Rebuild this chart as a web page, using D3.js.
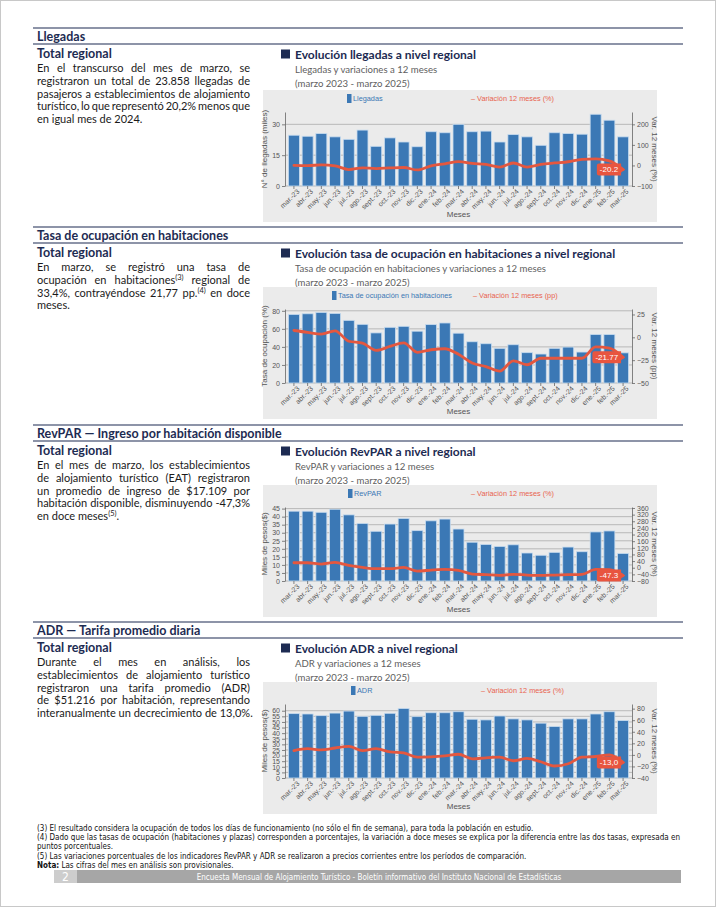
<!DOCTYPE html>
<html>
<head>
<meta charset="utf-8">
<script src="https://cdn.jsdelivr.net/npm/d3@7"></script>
<style>
body { margin: 0; background: #fff; }
#pagina { position: relative; width: 716px; height: 907px; overflow: hidden; }
</style>
</head>
<body>
<div id="pagina"></div>
<script>
// meses del eje x
const meses = ["mar.-23", "abr.-23", "may.-23", "jun.-23", "jul.-23", "ago.-23", "sept.-23", "oct.-23", "nov.-23", "dic.-23",
    "ene.-24", "feb.-24", "mar.-24", "abr.-24", "may.-24", "jun.-24", "jul.-24", "ago.-24", "sept.-24", "oct.-24",
    "nov.-24", "dic.-24", "ene.-25", "feb.-25", "mar.-25"];

// Llegadas (miles) y variacion 12 meses (%)
const llegadas = [24.7, 24.2, 25.5, 23.9, 22.7, 27.2, 19.3, 23.4, 21.4, 19.1, 26.4, 25.9, 30.0, 26.4, 26.7, 21.4, 25.0, 23.9, 19.8, 25.9, 25.5, 25.2, 34.9, 32.0, 23.9];
const llegadasVar = [0, -1, 3, -2, -20, -12, -15, -12, -10, -22, -2, 8, 19, 10, 5, -8, 12, -8, 5, 12, 18, 30, 32, 22, -20.2];
const ticksLlegadas = [0, 15, 30];
const ticksLlegadasVar = [-100, 0, 100, 200];

// Tasa de ocupacion (%) y variacion (pp)
const ocupacion = [76.0, 76.7, 78.2, 77.1, 69.4, 65.0, 55.5, 61.7, 62.8, 57.4, 64.7, 66.5, 55.2, 45.7, 43.5, 38.4, 42.4, 33.6, 32.1, 38.4, 39.8, 34.3, 53.7, 53.7, 33.4];
const ocupacionVar = [7.5, 5.4, 3.6, 7.1, -4.3, -6.4, -14.3, -10, -6, -16.4, -13.6, -12.5, -18.6, -28.2, -32, -37, -25.7, -30, -22.9, -22.9, -22.9, -22.9, -10.4, -11.8, -21.77];
const ticksOcupacion = [0, 20, 40, 60, 80];
const ticksOcupacionVar = [-50, -25, 0, 25];

// RevPAR (miles de pesos) y variacion (%)
const revpar = [43.4, 43.4, 42.7, 44.6, 41.1, 35.8, 30.9, 35.4, 38.9, 31.3, 37.4, 38.5, 32.3, 24.1, 22.7, 21.5, 22.5, 17.4, 16.0, 17.8, 21.1, 18.2, 30.5, 31.1, 17.1];
const revparVar = [30, 30, 22, 32, 14, 2, -6, -6, 2, -20, -14, -10, -16, -38, -42, -46, -40, -44, -46, -44, -42, -40, -10, -12, -47.3];
const ticksRevpar = [0, 5, 10, 15, 20, 25, 30, 35, 40, 45];
const ticksRevparVar = [-80, -40, 0, 40, 80, 120, 160, 200, 240, 280, 320, 360];

// ADR (miles de pesos) y variacion (%)
const adr = [57.4, 57.1, 55.6, 57.9, 59.7, 55.0, 55.9, 57.7, 62.0, 54.7, 58.2, 58.2, 59.1, 52.4, 51.8, 55.3, 52.7, 51.8, 48.9, 45.9, 52.7, 52.7, 57.1, 59.1, 51.2];
const adrVar = [7.4, 10.8, 8.5, 11.9, 14.7, 7.4, 10.8, 5.1, 3.4, -4, -3.4, -1.7, 1.1, -6.8, -5.1, -4, -10.2, -6.2, -11.9, -19.2, -15.3, -4, -2.8, 0, -13.0];
const ticksAdr = [0, 5, 10, 15, 20, 25, 30, 35, 40, 45, 50, 55, 60];
const ticksAdrVar = [-40, -20, 0, 20, 40, 60, 80];

// textos ({..} = superindice, [..] = negrita)
const textoLlegadas = ["En el transcurso del mes de marzo, se", "registraron un total de 23.858 llegadas de",
    "pasajeros a establecimientos de alojamiento", "turístico, lo que representó 20,2% menos que", "en igual mes de 2024."];
const textoOcupacion = ["En marzo, se registró una tasa de", "ocupación en habitaciones{(3)} regional de",
    "33,4%, contrayéndose 21,77 pp.{(4)} en doce", "meses."];
const textoRevpar = ["En el mes de marzo, los establecimientos", "de alojamiento turístico (EAT) registraron",
    "un promedio de ingreso de $17.109 por", "habitación disponible, disminuyendo -47,3%", "en doce meses{(5)}."];
const textoAdr = ["Durante el mes en análisis, los", "establecimientos de alojamiento turístico",
    "registraron una tarifa promedio (ADR)", "de $51.216 por habitación, representando", "interanualmente un decrecimiento de 13,0%."];
const notas = ["(3) El resultado considera la ocupación de todos los días de funcionamiento (no sólo el fin de semana), para toda la población en estudio.",
    "(4) Dado que las tasas de ocupación (habitaciones y plazas) corresponden a porcentajes, la variación a doce meses se explica por la diferencia entre las dos tasas, expresada en",
    "puntos porcentuales.",
    "(5) Las variaciones porcentuales de los indicadores RevPAR y ADR se realizaron a precios corrientes entre los períodos de comparación.",
    "[Nota:] Las cifras del mes en análisis son provisionales."];

const navy = "#1d2b52";
const fuente = "Lato, 'Noto Sans', sans-serif";
const fuenteGraf = "'Liberation Sans', Arial, sans-serif";
const fuenteNotas = "'Liberation Sans Narrow', 'DejaVu Sans Condensed', 'Liberation Sans', sans-serif";

const svg = d3.select("#pagina").append("svg")
    .attr("width", 716).attr("height", 907)
    .style("font-family", fuente);

svg.append("rect").attr("x", 0.5).attr("y", 0.5).attr("width", 715).attr("height", 906)
    .attr("fill", "none").attr("stroke", "#c8c8c8");

// escribe lineas, justificando las que piden
function escribir(g, lineas, x, y0, paso, ancho, size, fill, just, familia) {
    lineas.forEach((l, i) => {
        const t = g.append("text").attr("x", x).attr("y", y0 + i * paso)
            .attr("font-size", size).attr("fill", fill);
        if (familia) t.attr("font-family", familia);
        let arriba = false;
        l.split(/(\{[^}]*\}|\[[^\]]*\])/).forEach(s => {
            if (!s) return;
            const ts = t.append("tspan");
            if (s[0] === "{") {
                ts.text(s.slice(1, -1)).attr("font-size", size * 0.68).attr("dy", -size * 0.38);
                arriba = true;
            } else if (s[0] === "[") {
                ts.text(s.slice(1, -1)).attr("font-weight", "bold");
            } else {
                ts.text(s);
                if (arriba) { ts.attr("dy", size * 0.38); arriba = false; }
            }
        });
        if (just(i)) {
            const w = t.node().getComputedTextLength();
            const n = (l.match(/ /g) || []).length;
            if (n) t.style("word-spacing", ((ancho - w) / n) + "px");
        }
    });
}

const secciones = [
    { top: 28, titulo: "Llegadas", texto: textoLlegadas, graf: "Evolución llegadas a nivel regional", sub: "Llegadas y variaciones a 12 meses" },
    { top: 227, titulo: "Tasa de ocupación en habitaciones", texto: textoOcupacion, graf: "Evolución tasa de ocupación en habitaciones a nivel regional", sub: "Tasa de ocupación en habitaciones y variaciones a 12 meses" },
    { top: 425, titulo: "RevPAR — Ingreso por habitación disponible", texto: textoRevpar, graf: "Evolución RevPAR a nivel regional", sub: "RevPAR y variaciones a 12 meses" },
    { top: 622, titulo: "ADR — Tarifa promedio diaria", texto: textoAdr, graf: "Evolución ADR a nivel regional", sub: "ADR y variaciones a 12 meses" }
];

secciones.forEach(s => {
    const g = svg.append("g");
    g.append("line").attr("x1", 33).attr("x2", 683).attr("y1", s.top).attr("y2", s.top)
        .attr("stroke", navy).attr("stroke-width", 1.1);
    g.append("line").attr("x1", 33).attr("x2", 683).attr("y1", s.top + 16).attr("y2", s.top + 16)
        .attr("stroke", navy).attr("stroke-width", 1.1);
    g.append("text").attr("x", 37).attr("y", s.top + 12.5).text(s.titulo)
        .attr("font-size", 12.5).attr("font-weight", "bold").attr("fill", navy);
    g.append("text").attr("x", 37).attr("y", s.top + 30).text("Total regional")
        .attr("font-size", 12.5).attr("font-weight", "bold").attr("fill", navy);
    escribir(g, s.texto, 37, s.top + 44.3, 12.7, 213, 11, "#1a1a1a", i => i < s.texto.length - 1);

    g.append("rect").attr("x", 281).attr("y", s.top + 21.5).attr("width", 9).attr("height", 9).attr("fill", navy);
    g.append("text").attr("x", 295).attr("y", s.top + 30.5).text(s.graf)
        .attr("font-size", 12).attr("font-weight", "bold").attr("fill", navy);
    g.append("text").attr("x", 295).attr("y", s.top + 44.5).text(s.sub)
        .attr("font-size", 9.6).attr("fill", "#606060");
    g.append("text").attr("x", 295).attr("y", s.top + 58.5).text("(marzo 2023 - marzo 2025)")
        .attr("font-size", 9.6).attr("fill", "#606060");
});

const graficos = [
    { caja: 90, valores: llegadas, variacion: llegadasVar, dominio: [0, 36], dominio2: [-100, 260],
      ticks: ticksLlegadas, ticks2: ticksLlegadasVar, serie: "Llegadas", unidad: "(%)", leyenda: [347, 471],
      tituloY: "N° de llegadas (miles)", tituloY2: "Var. 12 meses (%)", etiqueta: "-20.2" },
    { caja: 287, valores: ocupacion, variacion: ocupacionVar, dominio: [0, 82], dominio2: [-50, 31],
      ticks: ticksOcupacion, ticks2: ticksOcupacionVar, serie: "Tasa de ocupación en habitaciones", unidad: "(pp)", leyenda: [332, 473],
      tituloY: "Tasa de ocupación (%)", tituloY2: "Var. 12 meses (pp)", etiqueta: "-21.77" },
    { caja: 485, valores: revpar, variacion: revparVar, dominio: [0, 46], dominio2: [-80, 366],
      ticks: ticksRevpar, ticks2: ticksRevparVar, serie: "RevPAR", unidad: "(%)", leyenda: [348, 471],
      tituloY: "Miles de pesos($)", tituloY2: "Var. 12 meses (%)", etiqueta: "-47.3" },
    { caja: 682, valores: adr, variacion: adrVar, dominio: [0, 66], dominio2: [-40, 88],
      ticks: ticksAdr, ticks2: ticksAdrVar, serie: "ADR", unidad: "(%)", leyenda: [351, 481],
      tituloY: "Miles de pesos($)", tituloY2: "Var. 12 meses (%)", etiqueta: "-13,0" }
];

const plotL = 285, plotR = 632;

function estiloEje(sel) {
    sel.attr("font-size", 7).attr("font-family", fuenteGraf);
    sel.selectAll("path, line").attr("stroke", "#666").attr("stroke-width", 0.8);
    sel.selectAll("text").attr("fill", "#555");
}

graficos.forEach(c => {
    const g = svg.append("g").attr("font-family", fuenteGraf);
    const t = c.caja;
    g.append("rect").attr("x", 263).attr("y", t).attr("width", 394).attr("height", 132).attr("fill", "#ebebeb");

    const x = d3.scaleBand().domain(meses).range([plotL, plotR]).paddingInner(0.2).paddingOuter(0.25);
    const y = d3.scaleLinear().domain(c.dominio).range([t + 96, t + 22]);
    const y2 = d3.scaleLinear().domain(c.dominio2).range([t + 96, t + 22]);

    g.append("g").selectAll("line").data(c.ticks).join("line")
        .attr("x1", plotL).attr("x2", plotR).attr("y1", d => y(d)).attr("y2", d => y(d))
        .attr("stroke", "#b2b2b2").attr("stroke-width", 0.9);

    g.append("g").selectAll("rect").data(c.valores).join("rect")
        .attr("x", (d, i) => x(meses[i])).attr("width", x.bandwidth())
        .attr("y", d => y(d)).attr("height", d => y(0) - y(d))
        .attr("fill", "#3b78b5").attr("stroke", "#c6dbef").attr("stroke-width", 0.8);

    const ejeY = g.append("g").attr("transform", `translate(${plotL},0)`)
        .call(d3.axisLeft(y).tickValues(c.ticks).tickSize(3).tickPadding(2).tickSizeOuter(0));
    estiloEje(ejeY);
    const ejeY2 = g.append("g").attr("transform", `translate(${plotR},0)`)
        .call(d3.axisRight(y2).tickValues(c.ticks2).tickSize(3).tickPadding(2).tickSizeOuter(0));
    estiloEje(ejeY2);
    const ejeX = g.append("g").attr("transform", `translate(0,${y(0)})`)
        .call(d3.axisBottom(x).tickSize(3).tickSizeOuter(0));
    estiloEje(ejeX);
    ejeX.select(".domain").remove();
    ejeX.selectAll("text").attr("text-anchor", "end").attr("x", 0).attr("y", 6).attr("dy", "0.35em")
        .attr("transform", "rotate(-45)");

    const linea = d3.line()
        .x((d, i) => x(meses[i]) + x.bandwidth() / 2)
        .y(d => y2(d))
        .curve(d3.curveMonotoneX);
    g.append("path").datum(c.variacion).attr("d", linea)
        .attr("fill", "none").attr("stroke", "#e4573f").attr("stroke-width", 2.8)
        .attr("stroke-linejoin", "round").attr("stroke-linecap", "round");

    // etiqueta del ultimo valor
    const n = c.variacion.length - 1;
    const lx = x(meses[n]) + x.bandwidth() / 2, ly = y2(c.variacion[n]);
    const et = g.append("text").text(c.etiqueta).attr("x", lx - 5).attr("y", ly + 2.8)
        .attr("text-anchor", "end").attr("font-size", 8).attr("fill", "#fff");
    const w = et.node().getComputedTextLength();
    const bx = lx - 2 - w - 6, bw = w + 6;
    g.insert("path", () => et.node())
        .attr("d", `M${bx + 2},${ly - 6}H${bx + bw}L${bx + bw},${ly - 3}L${lx + 2},${ly}L${bx + bw},${ly + 3}V${ly + 6}H${bx + 2}Q${bx},${ly + 6} ${bx},${ly + 4}V${ly - 4}Q${bx},${ly - 6} ${bx + 2},${ly - 6}Z`)
        .attr("fill", "#e8553f");

    // leyenda
    g.append("rect").attr("x", c.leyenda[0]).attr("y", t + 4).attr("width", 4.5).attr("height", 9).attr("fill", "#3b78b5");
    g.append("text").attr("x", c.leyenda[0] + 6).attr("y", t + 11).text(c.serie)
        .attr("font-size", 7.3).attr("fill", "#3b78b5");
    g.append("text").attr("x", c.leyenda[1]).attr("y", t + 11).text("– Variación 12 meses " + c.unidad)
        .attr("font-size", 7.3).attr("fill", "#e8634f");

    // titulos de ejes
    const medio = (y.range()[0] + y.range()[1]) / 2;
    g.append("text").attr("transform", `translate(267,${medio}) rotate(-90)`).attr("text-anchor", "middle")
        .text(c.tituloY).attr("font-size", 8).attr("fill", "#555");
    g.append("text").attr("transform", `translate(652,${medio}) rotate(90)`).attr("text-anchor", "middle")
        .text(c.tituloY2).attr("font-size", 8).attr("fill", "#555");
    g.append("text").attr("x", (plotL + plotR) / 2).attr("y", t + 127).attr("text-anchor", "middle")
        .text("Meses").attr("font-size", 8).attr("fill", "#555");
});

// notas al pie
escribir(svg.append("g"), notas, 37, 831, 9.2, 643, 8, "#111", i => i === 1, fuenteNotas);

// pie de pagina
const pie = svg.append("g").attr("font-family", fuenteNotas);
pie.append("rect").attr("x", 54).attr("y", 870).attr("width", 23).attr("height", 13).attr("fill", "#cdcdcd");
pie.append("text").attr("x", 65.5).attr("y", 881).attr("text-anchor", "middle").text("2")
    .attr("font-size", 12).attr("fill", "#fff");
pie.append("rect").attr("x", 77).attr("y", 870).attr("width", 604).attr("height", 13).attr("fill", "#a6a6a6");
pie.append("text").attr("x", 379).attr("y", 879.5).attr("text-anchor", "middle")
    .text("Encuesta Mensual de Alojamiento Turístico - Boletín informativo del Instituto Nacional de Estadísticas")
    .attr("font-size", 8).attr("fill", "#fff");
</script>
</body>
</html>
